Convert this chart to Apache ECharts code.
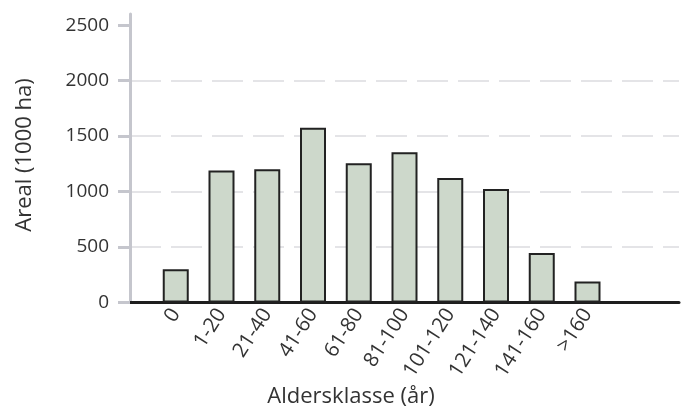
<!DOCTYPE html>
<html>
<head>
<meta charset="utf-8">
<script src="https://cdn.jsdelivr.net/npm/echarts@6/dist/echarts.min.js"></script>
<style>
  html, body { margin: 0; padding: 0; background: #fff; }
  #main { width: 684px; height: 410px; }
</style>
</head>
<body>
<div id="main"></div>
<script>
// aldersklasser og areal (1000 ha)
var klasser = ['0', '1-20', '21-40', '41-60', '61-80', '81-100', '101-120', '121-140', '141-160', '>160'];
var areal = [300, 1190, 1200, 1575, 1255, 1355, 1122, 1022, 447, 190];
var yTicks = [0, 500, 1000, 1500, 2000, 2500];

// tom plass foran og bak på aksen
var xData = [''].concat(klasser, ['', '']);
var yData = ['-'].concat(areal, ['-', '-']);

var font = 'Open Sans';
var myChart = echarts.init(document.getElementById('main'));
var option = {
  animation: false,
  grid: { left: 130, right: 5, top: 14, bottom: 107.5 },
  xAxis: {
    type: 'category',
    data: xData,
    boundaryGap: false,
    axisLine: { lineStyle: { color: '#1e1e1e', width: 3 } },
    axisTick: { show: false },
    axisLabel: {
      interval: 0,
      rotate: 57,
      margin: 8,
      fontFamily: font,
      fontSize: 20.5,
      color: '#333'
    },
    splitLine: { show: false }
  },
  yAxis: {
    type: 'value',
    min: 0,
    max: 2600,
    interval: 500,
    axisLine: { show: true, lineStyle: { color: '#c5c6cd', width: 3 } },
    axisTick: {
      show: true,
      length: 12,
      customValues: yTicks,
      lineStyle: { color: '#c5c6cd', width: 3 }
    },
    axisLabel: {
      customValues: yTicks,
      formatter: function (v) { return String(v); },
      margin: 21,
      fontFamily: font,
      fontSize: 19,
      color: '#333'
    },
    splitLine: {
      show: true,
      showMinLine: false,
      showMaxLine: false,
      lineStyle: { color: '#dcdcdf', width: 1.5, type: [31, 10] }
    }
  },
  graphic: [
    {
      type: 'text',
      x: 351, y: 397,
      style: {
        text: 'Aldersklasse (år)',
        font: '22px "Open Sans"',
        fill: '#333',
        align: 'center',
        verticalAlign: 'middle'
      }
    },
    {
      type: 'text',
      x: 25, y: 155,
      rotation: Math.PI / 2,
      style: {
        text: 'Areal (1000 ha)',
        font: '22px "Open Sans"',
        fill: '#333',
        align: 'center',
        verticalAlign: 'middle'
      }
    }
  ],
  series: [{
    type: 'bar',
    data: yData,
    barWidth: 26,
    itemStyle: { color: '#cdd8cb', borderColor: '#222', borderWidth: 2 }
  }]
};
myChart.setOption(option);
</script>
</body>
</html>
